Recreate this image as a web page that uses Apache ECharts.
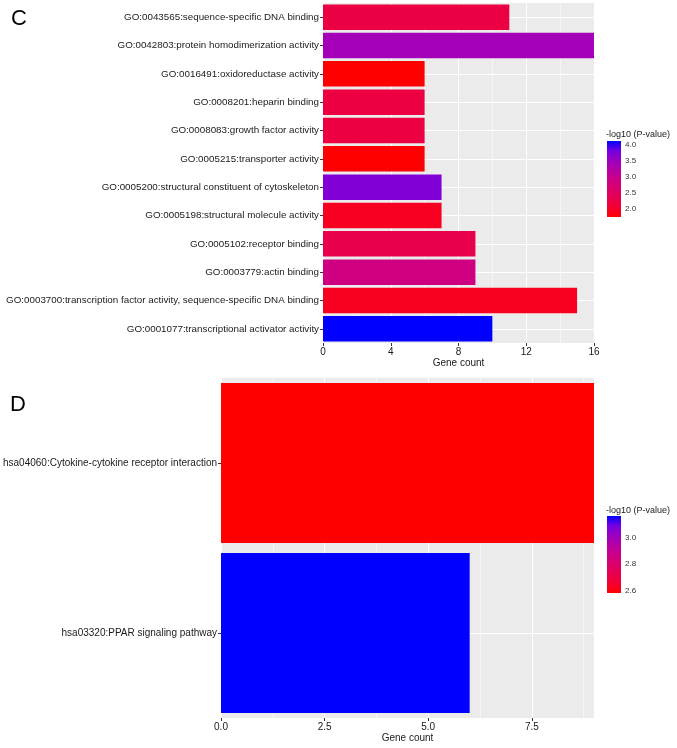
<!DOCTYPE html>
<html>
<head>
<meta charset="utf-8">
<script src="https://cdn.jsdelivr.net/npm/echarts@6/dist/echarts.min.js"></script>
<style>
html,body{margin:0;padding:0;background:#fff;}
#chart{width:677px;height:748px;}
</style>
</head>
<body>
<div id="chart"></div>
<script>
// Panel C (GO terms), listed bottom to top
const catsC = [
  'GO:0001077:transcriptional activator activity',
  'GO:0003700:transcription factor activity, sequence-specific DNA binding',
  'GO:0003779:actin binding',
  'GO:0005102:receptor binding',
  'GO:0005198:structural molecule activity',
  'GO:0005200:structural constituent of cytoskeleton',
  'GO:0005215:transporter activity',
  'GO:0008083:growth factor activity',
  'GO:0008201:heparin binding',
  'GO:0016491:oxidoreductase activity',
  'GO:0042803:protein homodimerization activity',
  'GO:0043565:sequence-specific DNA binding'
];
const countsC = [10, 15, 9, 9, 7, 7, 6, 6, 6, 6, 16, 11];
const logpC   = [4.12, 1.95, 2.87, 2.32, 1.96, 3.72, 1.77, 2.22, 2.22, 1.76, 3.42, 2.24];
const xTicksC = [0, 4, 8, 12, 16];
const legendTicksC = [2.0, 2.5, 3.0, 3.5, 4.0];

// Panel D (KEGG pathways), listed bottom to top
const catsD = [
  'hsa03320:PPAR signaling pathway',
  'hsa04060:Cytokine-cytokine receptor interaction'
];
const countsD = [6, 9];
const logpD   = [3.165, 2.58];
const xTicksD = [0, 2.5, 5, 7.5];
const xMinorD = [1.25, 3.75, 6.25, 8.75];
const legendTicksD = [2.6, 2.8, 3.0];

// red -> blue gradient (Lab-like interpolation stops)
const gradStops = ['#FF0000','#F40031','#E80050','#DA006C','#CA0088','#B500A5','#9A00C2','#7300E1','#0000FF'];

const FONT = "'Liberation Sans', Arial, sans-serif";
const TXT = '#1A1A1A';

const minC = Math.min(...logpC), maxC = Math.max(...logpC);
const minD = Math.min(...logpD), maxD = Math.max(...logpD);

function gradient() {
  const n = gradStops.length;
  return {
    type: 'linear', x: 0, y: 0, x2: 0, y2: 1,
    colorStops: gradStops.slice().reverse().map((c, i) => ({offset: i / (n - 1), color: c}))
  };
}

const catLine = (cats) => ({
  z: 1, silent: true, symbol: 'none', animation: false,
  label: {show: false},
  lineStyle: {color: '#FFFFFF', width: 1, type: 'solid'},
  emphasis: {disabled: true},
  data: cats.map(c => ({yAxis: c}))
});

const catAxisBase = {
  type: 'category',
  axisLine: {show: false},
  axisTick: {show: true, alignWithLabel: true, length: 3, lineStyle: {color: '#333'}},
  splitLine: {show: false}
};

const option = {
  animation: false,
  backgroundColor: '#FFFFFF',
  textStyle: {fontFamily: FONT},
  title: [
    {text: 'C', left: 11, top: 8, padding: 0, textStyle: {fontFamily: FONT, fontSize: 22, fontWeight: 'normal', color: '#000'}},
    {text: 'D', left: 10, top: 394, padding: 0, textStyle: {fontFamily: FONT, fontSize: 22, fontWeight: 'normal', color: '#000'}},
    {text: '-log10 (P-value)', left: 606, top: 130, padding: 0, textStyle: {fontFamily: FONT, fontSize: 9, fontWeight: 'normal', color: TXT}},
    {text: '-log10 (P-value)', left: 606, top: 506, padding: 0, textStyle: {fontFamily: FONT, fontSize: 9, fontWeight: 'normal', color: TXT}}
  ],
  grid: [
    {left: 323, top: 3, width: 271, height: 340, show: true, backgroundColor: '#EBEBEB', borderWidth: 0},
    {left: 219, top: 378, width: 375, height: 340, show: true, backgroundColor: '#EBEBEB', borderWidth: 0},
    {left: 607, top: 141, width: 14, height: 76},
    {left: 607, top: 516, width: 14, height: 77}
  ],
  visualMap: [
    {type: 'continuous', show: false, seriesIndex: 0, dimension: 2, min: minC, max: maxC, inRange: {color: gradStops}},
    {type: 'continuous', show: false, seriesIndex: 1, dimension: 2, min: minD, max: maxD, inRange: {color: gradStops}}
  ],
  xAxis: [
    {
      gridIndex: 0, type: 'value', min: xTicksC[0], max: xTicksC[xTicksC.length - 1], interval: xTicksC[1] - xTicksC[0],
      axisLine: {show: false},
      axisTick: {show: true, length: 3, lineStyle: {color: '#333'}},
      axisLabel: {fontSize: 10, color: TXT, margin: 4, fontFamily: FONT},
      splitLine: {show: true, lineStyle: {color: '#FFFFFF', width: 1}},
      minorTick: {show: false, splitNumber: 2},
      minorSplitLine: {show: true, lineStyle: {color: '#FFFFFF', width: 0.5}},
      name: 'Gene count', nameLocation: 'middle', nameGap: 15,
      nameTextStyle: {fontSize: 10, color: TXT, fontFamily: FONT}
    },
    {
      gridIndex: 1, type: 'value', min: 0, max: Math.max(...countsD),
      axisLine: {show: false},
      axisTick: {show: true, length: 3, lineStyle: {color: '#333'}, customValues: xTicksD},
      axisLabel: {fontSize: 10, color: TXT, margin: 4, fontFamily: FONT, customValues: xTicksD, formatter: v => v.toFixed(1)},
      splitLine: {show: true, lineStyle: {color: '#FFFFFF', width: 1}},
      name: 'Gene count', nameLocation: 'middle', nameGap: 15,
      nameTextStyle: {fontSize: 10, color: TXT, fontFamily: FONT}
    },
    {
      gridIndex: 1, type: 'value', min: 0, max: Math.max(...countsD), position: 'bottom',
      axisLine: {show: false},
      axisTick: {show: false, customValues: xMinorD},
      axisLabel: {show: false, customValues: xMinorD},
      splitLine: {show: true, lineStyle: {color: '#FFFFFF', width: 0.5}}
    },
    {gridIndex: 2, type: 'category', data: [''], show: false},
    {gridIndex: 3, type: 'category', data: [''], show: false}
  ],
  yAxis: [
    Object.assign({}, catAxisBase, {gridIndex: 0, data: catsC,
      axisLabel: {fontSize: 9.8, color: TXT, margin: 4, fontFamily: FONT}}),
    Object.assign({}, catAxisBase, {gridIndex: 1, data: catsD,
      axisLabel: {fontSize: 10, color: TXT, margin: 4, fontFamily: FONT}}),
    {
      gridIndex: 2, type: 'value', min: minC, max: maxC, position: 'right',
      axisLine: {show: false},
      axisTick: {show: true, inside: true, length: 3, lineStyle: {color: '#FFFFFF'}, customValues: legendTicksC},
      axisLabel: {fontSize: 8, color: '#333', margin: 4, fontFamily: FONT, customValues: legendTicksC, formatter: v => v.toFixed(1)},
      splitLine: {show: false}
    },
    {
      gridIndex: 2, type: 'value', min: minC, max: maxC, position: 'left',
      axisLine: {show: false},
      axisTick: {show: true, inside: true, length: 3, lineStyle: {color: '#FFFFFF'}, customValues: legendTicksC},
      axisLabel: {show: false, customValues: legendTicksC},
      splitLine: {show: false}
    },
    {
      gridIndex: 3, type: 'value', min: minD, max: maxD, position: 'right',
      axisLine: {show: false},
      axisTick: {show: true, inside: true, length: 3, lineStyle: {color: '#FFFFFF'}, customValues: legendTicksD},
      axisLabel: {fontSize: 8, color: '#333', margin: 4, fontFamily: FONT, customValues: legendTicksD, formatter: v => v.toFixed(1)},
      splitLine: {show: false}
    },
    {
      gridIndex: 3, type: 'value', min: minD, max: maxD, position: 'left',
      axisLine: {show: false},
      axisTick: {show: true, inside: true, length: 3, lineStyle: {color: '#FFFFFF'}, customValues: legendTicksD},
      axisLabel: {show: false, customValues: legendTicksD},
      splitLine: {show: false}
    }
  ],
  series: [
    {
      type: 'bar', xAxisIndex: 0, yAxisIndex: 0, z: 2,
      data: catsC.map((c, i) => [countsC[i], c, logpC[i]]),
      encode: {x: 0, y: 1},
      barWidth: '90%',
      markLine: catLine(catsC)
    },
    {
      type: 'bar', xAxisIndex: 1, yAxisIndex: 1, z: 2,
      data: catsD.map((c, i) => [countsD[i], c, logpD[i]]),
      encode: {x: 0, y: 1},
      barWidth: '94%',
      markLine: catLine(catsD)
    },
    {type: 'bar', xAxisIndex: 3, yAxisIndex: 2, stack: 'cbC', barWidth: '100%', silent: true,
      data: [minC], itemStyle: {color: 'rgba(0,0,0,0)'}},
    {type: 'bar', xAxisIndex: 3, yAxisIndex: 2, stack: 'cbC', barWidth: '100%', silent: true,
      data: [maxC - minC], itemStyle: {color: gradient()}},
    {type: 'bar', xAxisIndex: 4, yAxisIndex: 4, stack: 'cbD', barWidth: '100%', silent: true,
      data: [minD], itemStyle: {color: 'rgba(0,0,0,0)'}},
    {type: 'bar', xAxisIndex: 4, yAxisIndex: 4, stack: 'cbD', barWidth: '100%', silent: true,
      data: [maxD - minD], itemStyle: {color: gradient()}}
  ]
};

const chart = echarts.init(document.getElementById('chart'), null, {renderer: 'canvas'});
chart.setOption(option);
</script>
</body>
</html>
